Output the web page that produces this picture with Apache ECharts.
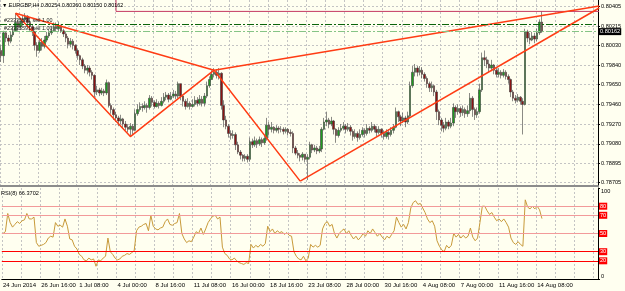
<!DOCTYPE html>
<html>
<head>
<meta charset="utf-8">
<style>
  html, body { margin: 0; padding: 0; background: #fffff0; }
  #chart { width: 625px; height: 291px; }
</style>
<script src="https://cdn.jsdelivr.net/npm/echarts@6/dist/echarts.min.js"></script>
</head>
<body>
<div id="chart"></div>
<script>
// EURGBP H4, 24 Jun - 14 Aug 2014
const firstOpen = 0.7998;
const closes = [
  0.7993, 0.8015, 0.8010, 0.8007, 0.8013, 0.8017, 0.8025, 0.8021, 0.8025, 0.8028,
  0.8031, 0.8025, 0.8021, 0.8016, 0.8003, 0.7998, 0.8006, 0.8002, 0.8008, 0.8012,
  0.8015, 0.8017, 0.8021, 0.8019, 0.8022, 0.8017, 0.8014, 0.8010, 0.8004, 0.8007,
  0.8003, 0.7998, 0.7993, 0.7989, 0.7983, 0.7979, 0.7981, 0.7977, 0.7974, 0.7958,
  0.7960, 0.7957, 0.7959, 0.7957, 0.7967, 0.7945, 0.7941, 0.7936, 0.7933, 0.7930,
  0.7932, 0.7927, 0.7924, 0.7922, 0.7925, 0.7921, 0.7937, 0.7941, 0.7944, 0.7943,
  0.7945, 0.7943, 0.7952, 0.7948, 0.7944, 0.7947, 0.7945, 0.7949, 0.7953, 0.7955,
  0.7951, 0.7954, 0.7956, 0.7954, 0.7966, 0.7954, 0.7949, 0.7944, 0.7947, 0.7944,
  0.7946, 0.7950, 0.7947, 0.7951, 0.7947, 0.7954, 0.7964, 0.7970, 0.7975, 0.7977,
  0.7974, 0.7976, 0.7945, 0.7931, 0.7925, 0.7918, 0.7916, 0.7917, 0.7907, 0.7900,
  0.7897, 0.7894, 0.7896, 0.7893, 0.7910, 0.7907, 0.7911, 0.7908, 0.7912, 0.7909,
  0.7913, 0.7926, 0.7922, 0.7924, 0.7921, 0.7923, 0.7922, 0.7922, 0.7920, 0.7922,
  0.7919, 0.7918, 0.7904, 0.7899, 0.7897, 0.7895, 0.7898, 0.7893, 0.7895, 0.7907,
  0.7902, 0.7904, 0.7901, 0.7903, 0.7922, 0.7929, 0.7931, 0.7927, 0.7930, 0.7922,
  0.7916, 0.7921, 0.7923, 0.7925, 0.7922, 0.7924, 0.7920, 0.7915, 0.7918, 0.7914,
  0.7917, 0.7921, 0.7918, 0.7923, 0.7921, 0.7925, 0.7922, 0.7919, 0.7922, 0.7918,
  0.7915, 0.7919, 0.7917, 0.7921, 0.7924, 0.7939, 0.7934, 0.7930, 0.7933, 0.7929,
  0.7935, 0.7964, 0.7977, 0.7981, 0.7977, 0.7979, 0.7975, 0.7971, 0.7966, 0.7962,
  0.7964, 0.7958, 0.7939, 0.7931, 0.7926, 0.7923, 0.7929, 0.7925, 0.7928, 0.7943,
  0.7939, 0.7942, 0.7938, 0.7941, 0.7937, 0.7940, 0.7952, 0.7941, 0.7936, 0.7939,
  0.7960, 0.7991, 0.7989, 0.7985, 0.7981, 0.7984, 0.7979, 0.7975, 0.7977, 0.7974,
  0.7977, 0.7973, 0.7970, 0.7958, 0.7952, 0.7950, 0.7953, 0.7949, 0.7946, 0.8016,
  0.8010, 0.8008, 0.8012, 0.8009, 0.8015, 0.80254, 0.80162
];
const highs = [
  0.8003, 0.8017, 0.8016, 0.8013, 0.8016, 0.8021, 0.8034, 0.8028, 0.8029, 0.8032,
  0.8034, 0.8032, 0.8027, 0.8023, 0.8017, 0.8006, 0.8010, 0.8010, 0.8012, 0.8016,
  0.8018, 0.8021, 0.8025, 0.8025, 0.8026, 0.8023, 0.8019, 0.8016, 0.8012, 0.8010,
  0.8009, 0.8004, 0.8000, 0.7994, 0.7991, 0.7985, 0.7984, 0.7983, 0.7979, 0.7975,
  0.7964, 0.7962, 0.7962, 0.7961, 0.7970, 0.7968, 0.7947, 0.7943, 0.7939, 0.7935,
  0.7936, 0.7933, 0.7930, 0.7927, 0.7928, 0.7927, 0.7941, 0.7946, 0.7948, 0.7947,
  0.7949, 0.7947, 0.7955, 0.7954, 0.7950, 0.7951, 0.7949, 0.7953, 0.7957, 0.7958,
  0.7957, 0.7958, 0.7960, 0.7959, 0.7968, 0.7966, 0.7955, 0.7951, 0.7952, 0.7949,
  0.7951, 0.7954, 0.7953, 0.7955, 0.7954, 0.7957, 0.7968, 0.7973, 0.7979, 0.7981,
  0.7980, 0.7981, 0.7977, 0.7950, 0.7935, 0.7927, 0.7921, 0.7921, 0.7919, 0.7910,
  0.7902, 0.7898, 0.7898, 0.7898, 0.7914, 0.7913, 0.7915, 0.7913, 0.7915, 0.7914,
  0.7916, 0.7933, 0.7929, 0.7929, 0.7925, 0.7926, 0.7925, 0.7925, 0.7924, 0.7924,
  0.7923, 0.7922, 0.7920, 0.7906, 0.7902, 0.7899, 0.7900, 0.7898, 0.7898, 0.7910,
  0.7908, 0.7907, 0.7906, 0.7906, 0.7924, 0.7933, 0.7939, 0.7933, 0.7934, 0.7931,
  0.7923, 0.7924, 0.7927, 0.7929, 0.7927, 0.7928, 0.7926, 0.7922, 0.7922, 0.7920,
  0.7922, 0.7924, 0.7923, 0.7927, 0.7925, 0.7929, 0.7927, 0.7925, 0.7925, 0.7923,
  0.7921, 0.7922, 0.7922, 0.7924, 0.7927, 0.7943, 0.7940, 0.7936, 0.7938, 0.7935,
  0.7939, 0.7968, 0.7983, 0.7985, 0.7983, 0.7983, 0.7982, 0.7977, 0.7973, 0.7968,
  0.7968, 0.7965, 0.7960, 0.7941, 0.7933, 0.7929, 0.7933, 0.7931, 0.7933, 0.7947,
  0.7945, 0.7946, 0.7944, 0.7945, 0.7943, 0.7945, 0.7957, 0.7954, 0.7943, 0.7943,
  0.7966, 0.7996, 0.7998, 0.7992, 0.7989, 0.7989, 0.7985, 0.7981, 0.7981, 0.7979,
  0.7980, 0.7979, 0.7975, 0.7971, 0.7960, 0.7955, 0.7956, 0.7954, 0.7952, 0.8019,
  0.8018, 0.8015, 0.8016, 0.8015, 0.8019, 0.8028, 0.80360
];
const lows = [
  0.7987, 0.7986, 0.8006, 0.8003, 0.8005, 0.8011, 0.8016, 0.8017, 0.8018, 0.8022,
  0.8025, 0.8021, 0.8017, 0.8012, 0.7998, 0.7992, 0.7996, 0.7998, 0.8000, 0.8006,
  0.8010, 0.8013, 0.8016, 0.8016, 0.8016, 0.8015, 0.8011, 0.8006, 0.8000, 0.8001,
  0.7999, 0.7995, 0.7989, 0.7984, 0.7980, 0.7976, 0.7975, 0.7973, 0.7970, 0.7953,
  0.7955, 0.7954, 0.7955, 0.7954, 0.7955, 0.7943, 0.7937, 0.7931, 0.7929, 0.7925,
  0.7927, 0.7923, 0.7921, 0.7919, 0.7915, 0.7917, 0.7920, 0.7935, 0.7939, 0.7939,
  0.7941, 0.7938, 0.7941, 0.7944, 0.7942, 0.7943, 0.7942, 0.7944, 0.7947, 0.7950,
  0.7948, 0.7950, 0.7952, 0.7951, 0.7952, 0.7950, 0.7944, 0.7941, 0.7943, 0.7941,
  0.7943, 0.7944, 0.7944, 0.7945, 0.7944, 0.7944, 0.7952, 0.7962, 0.7970, 0.7972,
  0.7971, 0.7970, 0.7941, 0.7924, 0.7922, 0.7914, 0.7912, 0.7913, 0.7902, 0.7898,
  0.7893, 0.7891, 0.7891, 0.7890, 0.7891, 0.7904, 0.7905, 0.7904, 0.7906, 0.7905,
  0.7907, 0.7911, 0.7916, 0.7919, 0.7918, 0.7919, 0.7918, 0.7919, 0.7917, 0.7918,
  0.7916, 0.7915, 0.7899, 0.7897, 0.7894, 0.7891, 0.7892, 0.7890, 0.7873, 0.7893,
  0.7899, 0.7900, 0.7898, 0.7899, 0.7900, 0.7921, 0.7925, 0.7923, 0.7925, 0.7917,
  0.7909, 0.7914, 0.7919, 0.7921, 0.7918, 0.7920, 0.7916, 0.7911, 0.7913, 0.7910,
  0.7912, 0.7915, 0.7914, 0.7916, 0.7918, 0.7919, 0.7919, 0.7915, 0.7917, 0.7914,
  0.7912, 0.7913, 0.7912, 0.7915, 0.7918, 0.7923, 0.7929, 0.7925, 0.7928, 0.7924,
  0.7927, 0.7933, 0.7962, 0.7973, 0.7973, 0.7974, 0.7971, 0.7968, 0.7962, 0.7958,
  0.7958, 0.7954, 0.7931, 0.7926, 0.7920, 0.7919, 0.7921, 0.7922, 0.7923, 0.7925,
  0.7933, 0.7936, 0.7934, 0.7935, 0.7933, 0.7934, 0.7937, 0.7934, 0.7931, 0.7933,
  0.7937, 0.7958, 0.7983, 0.7981, 0.7977, 0.7978, 0.7975, 0.7972, 0.7972, 0.7971,
  0.7972, 0.7970, 0.7966, 0.7953, 0.7949, 0.7947, 0.7948, 0.7946, 0.7917, 0.7945,
  0.8006, 0.8004, 0.8007, 0.8005, 0.8007, 0.8013, 0.80150
];
const rsiValues = [
  50, 52, 72, 62, 57, 60, 63, 61, 64, 65,
  72, 66, 66, 68, 40, 36, 37, 38, 40, 45,
  47, 46, 62, 58, 59, 57, 66, 58, 44, 43,
  36, 33, 27, 25, 21, 20, 23, 21, 22, 14,
  21, 20, 23, 25, 45, 30, 27, 23, 21, 22,
  25, 26, 28, 27, 29, 31, 53, 57, 58, 60,
  61, 53, 70, 58, 55, 54, 56, 57, 63, 66,
  60, 59, 61, 62, 72, 50, 44, 40, 42, 41,
  46, 52, 50, 56, 49, 55, 62, 66, 69, 70,
  66, 68, 35, 28, 26, 22, 21, 23, 20, 18,
  17, 16, 18, 17, 38, 34, 37, 35, 38, 36,
  39, 58, 52, 55, 50, 53, 51, 52, 49, 51,
  48, 47, 30, 25, 22, 21, 25, 20, 23, 38,
  35, 37, 35, 37, 55, 61, 63, 58, 60, 50,
  45, 50, 53, 55, 50, 53, 48, 44, 47, 43,
  46, 50, 47, 53, 50, 55, 51, 47, 50, 46,
  43, 47, 45, 49, 53, 68, 62, 57, 60, 55,
  62, 78, 84, 86, 82, 83, 78, 73, 66, 62,
  64, 58, 42, 36, 32, 30, 37, 34, 37, 50,
  46, 49, 45, 48, 45, 47, 56, 46, 42, 45,
  62, 80, 80, 75, 71, 73, 68, 64, 66, 63,
  66, 62, 57, 45, 40, 38, 41, 38, 36, 87,
  79, 77, 80, 77, 80, 76, 66.3702
];
const slotCount = 250; // bars plus the empty shift on the right
const tickLabels = ['24 Jun 2014', '26 Jun 16:00', '1 Jul 08:00', '4 Jul 00:00', '8 Jul 16:00',
  '11 Jul 08:00', '16 Jul 00:00', '18 Jul 16:00', '23 Jul 08:00', '28 Jul 00:00',
  '30 Jul 16:00', '4 Aug 08:00', '7 Aug 00:00', '11 Aug 16:00', '14 Aug 08:00'];
const priceTicks = [0.80405, 0.80215, 0.80030, 0.79840, 0.79650, 0.79460, 0.79270, 0.79080, 0.78895, 0.78705];
const priceMin = 0.78673;
const priceMax = 0.80467;
const rsiLevels = [80, 70, 50, 30, 20];
const orderPrice = 0.80232;
const orderLabels = ['#23335591 sell 1.00', '#23335591 sell 1.00'];
const boxHigh = 0.80357;
// trendlines as [bar index, price]
const zigzag = [[6, 0.8034], [54, 0.7915], [89, 0.7979], [125, 0.7872]];
const upperRay = [[6, 0.8034], [89, 0.7979], [249.5, 0.8041]];
const lowerRay = [[125, 0.7872], [249.5, 0.8039]];

(function () {
  'use strict';

  const FONT = 'Liberation Sans';
  const chart = echarts.init(document.getElementById('chart'), null, { renderer: 'canvas' });

  const categories = Array.from({ length: slotCount }, (_, i) => String(i));
  const opens = closes.map((c, i) => (i === 0 ? firstOpen : closes[i - 1]));
  const candles = closes.map((c, i) => [opens[i], c, lows[i], highs[i]]);
  const last = closes.length - 1;
  const titleText = '\u25BC EURGBP,H4 ' + [opens[last], highs[last], lows[last], closes[last]]
    .map((v) => v.toFixed(5)).join(' ');

  const gridDash = { color: '#c4c4c4', type: [2, 2], width: 1 };
  const dashDot = [7, 2, 2, 2];
  const smallText = { fontFamily: FONT, fontSize: 5.6, color: '#000' };
  const orderText = Object.assign({}, smallText, { fontSize: 5.4, color: '#202020' });

  chart.setOption({
    animation: false,
    backgroundColor: '#fffff0',
    textStyle: { fontFamily: FONT },
    title: [
      { text: titleText, left: 2, top: 3, padding: 0, textStyle: Object.assign({}, smallText, { fontWeight: 'normal', fontSize: 5.4 }) },
      { text: 'RSI(8) ' + rsiValues[last].toFixed(4), left: 1, top: 190, padding: 0, textStyle: Object.assign({}, smallText, { fontWeight: 'normal' }) }
    ],
    grid: [
      { left: -2.5, right: 27, top: 0, height: 186 },
      { left: -2.5, right: 27, top: 188, height: 91 }
    ],
    xAxis: [
      {
        type: 'category', gridIndex: 0, data: categories,
        axisLine: { lineStyle: { color: '#8c8c8c', width: 2 } },
        axisTick: { show: false },
        axisLabel: { show: false },
        splitLine: { show: true, interval: 7, lineStyle: gridDash }
      },
      {
        type: 'category', gridIndex: 1, data: categories,
        axisLine: { lineStyle: { color: '#000', width: 1 } },
        axisTick: { show: false },
        axisLabel: {
          interval: 15, align: 'left', margin: 3, fontSize: 6, color: '#000', fontFamily: FONT,
          formatter: (value, index) => tickLabels[index / 16] || ''
        },
        splitLine: { show: true, interval: 7, lineStyle: gridDash }
      }
    ],
    yAxis: [
      {
        type: 'value', gridIndex: 0, position: 'right', min: priceMin, max: priceMax,
        axisLine: { show: true, lineStyle: { color: '#000' } },
        axisTick: { show: true, length: 2, customValues: priceTicks, lineStyle: { color: '#000' } },
        axisLabel: Object.assign({ customValues: priceTicks, margin: 3, formatter: (v) => v.toFixed(5) }, smallText),
        splitLine: { show: true, lineStyle: gridDash }
      },
      {
        type: 'value', gridIndex: 1, position: 'right', min: 0, max: 100,
        axisLine: { show: true, lineStyle: { color: '#000' } },
        axisTick: { show: true, length: 2, customValues: [0, 100], lineStyle: { color: '#000' } },
        axisLabel: Object.assign({
          customValues: [0, 100], margin: 3,
          verticalAlignMaxLabel: 'top', verticalAlignMinLabel: 'bottom'
        }, smallText),
        splitLine: { show: false }
      }
    ],
    series: [
      {
        name: 'EURGBP', type: 'candlestick', xAxisIndex: 0, yAxisIndex: 0,
        data: candles, barWidth: 2,
        itemStyle: {
          color: '#1f9a1f', color0: '#8a1414',
          borderColor: '#3c3c3c', borderColor0: '#3c3c3c', borderWidth: 0.6
        }
      },
      {
        name: 'box', type: 'line', xAxisIndex: 0, yAxisIndex: 0, clip: true, silent: true,
        data: [[48, priceMax + 0.001], [48, boxHigh], [249.5, boxHigh]],
        symbol: 'none', lineStyle: { color: '#c43a62', width: 1 },
        markLine: {
          silent: true, symbol: 'none', animation: false, precision: 6,
          data: [
            {
              yAxis: orderPrice,
              lineStyle: { color: '#0a640a', type: dashDot, width: 1 },
              label: Object.assign({ show: true, position: 'insideStartTop', distance: [4, 1], formatter: orderLabels[0] }, orderText)
            },
            {
              yAxis: closes[last],
              lineStyle: { color: '#86c486', type: dashDot, width: 1 },
              label: Object.assign({
                show: true, position: 'end', distance: 1, formatter: closes[last].toFixed(5),
                backgroundColor: '#000', padding: [1, 1, 0, 1]
              }, smallText, { color: '#fff' })
            },
            {
              yAxis: closes[last],
              lineStyle: { color: 'rgba(0,0,0,0)', width: 1 },
              label: Object.assign({ show: true, position: 'insideStartTop', distance: [4, 1], formatter: orderLabels[1] }, orderText)
            }
          ]
        }
      },
      {
        name: 'zigzag', type: 'line', xAxisIndex: 0, yAxisIndex: 0, clip: true, silent: true,
        data: zigzag, symbol: 'none', lineStyle: { color: '#ff3c14', width: 1.5 }
      },
      {
        name: 'upper', type: 'line', xAxisIndex: 0, yAxisIndex: 0, clip: true, silent: true,
        data: upperRay, symbol: 'none', lineStyle: { color: '#ff3c14', width: 1.5 }
      },
      {
        name: 'lower', type: 'line', xAxisIndex: 0, yAxisIndex: 0, clip: true, silent: true,
        data: lowerRay, symbol: 'none', lineStyle: { color: '#ff3c14', width: 1.5 }
      },
      {
        name: 'RSI(8)', type: 'line', xAxisIndex: 1, yAxisIndex: 1,
        data: rsiValues, showSymbol: false, symbol: 'none',
        lineStyle: { color: '#c89a3a', width: 1 },
        markLine: {
          silent: true, symbol: 'none', animation: false,
          data: rsiLevels.map((level) => ({
            yAxis: level,
            lineStyle: { color: level >= 50 ? '#f29a9a' : '#ff0000', width: 1, type: 'solid' },
            label: Object.assign({
              show: true, position: 'end', distance: 1, formatter: String(level),
              backgroundColor: '#ff0000', padding: [1, 1, 0, 1]
            }, smallText, { color: '#fff' })
          }))
        }
      }
    ]
  });
})();
</script>
</body>
</html>
